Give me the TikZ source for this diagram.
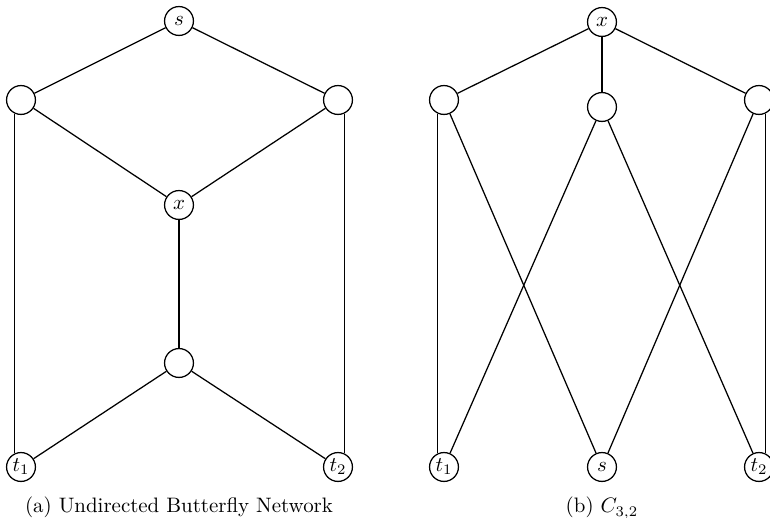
\documentclass[tikz,border=0pt]{standalone}
\usepackage{amsmath}
\usepackage{amssymb}
\usetikzlibrary{positioning}

\begin{document}
\begin{tikzpicture}[x=0.168cm,y=0.168cm,line width=0.6pt,
		vertex/.style={draw,circle,minimum size=13.8pt,inner sep=0pt}]
		\useasboundingbox (0,0) rectangle (77,51.8);
		\clip (0,0) rectangle (77,51.8);
		% (a) butterfly
		\node[vertex] (s) at (17.9,49.7){$s$};
		\node[vertex] (l) at (2.1,41.8){};
		\node[vertex] (r) at (33.8,41.8){};
		\node[vertex] (x) at (17.9,31.3){$x$};
		\node[vertex] (m) at (17.9,15.5){};
		\node[vertex] (t1) at (2.1,5.1){$t_{1}$};
		\node[vertex] (t2) at (33.8,5.1){$t_{2}$};
		\draw (s)--(l);
		\draw (s)--(r);
		\draw (l)--(x);
		\draw (r)--(x);
		\draw (x)--(m);
		\draw (m)--(t1);
		\draw (m)--(t2);
		\draw (l.245)--(t1.115);
		\draw (r.295)--(t2.65);
		\node[anchor=base] (capa) at (17.9,0.5){(a) Undirected Butterfly Network};
		%
		% (b) C_{3,2}
		\node[vertex] (bx) at (60.2,49.6){$x$};
		\node[vertex] (bl) at (44.4,41.8){};
		\node[vertex] (bm) at (60.2,41.1){};
		\node[vertex] (br) at (75.9,41.8){};
		\node[vertex] (bt1) at (44.4,5.1){$t_{1}$};
		\node[vertex] (bs) at (60.2,5.1){$s$};
		\node[vertex] (bt2) at (75.9,5.1){$t_{2}$};
		\draw (bx)--(bl);
		\draw (bx)--(bm);
		\draw (bx)--(br);
		\draw (bl.245)--(bt1.115);
		\draw (bl)--(bs);
		\draw (bm)--(bt1);
		\draw (bm)--(bt2);
		\draw (br)--(bs);
		\draw (br.295)--(bt2.65);
		\node[anchor=base] (capb) at (60.2,0.5){(b) $C_{3,2}$};
	\end{tikzpicture}
\end{document}
